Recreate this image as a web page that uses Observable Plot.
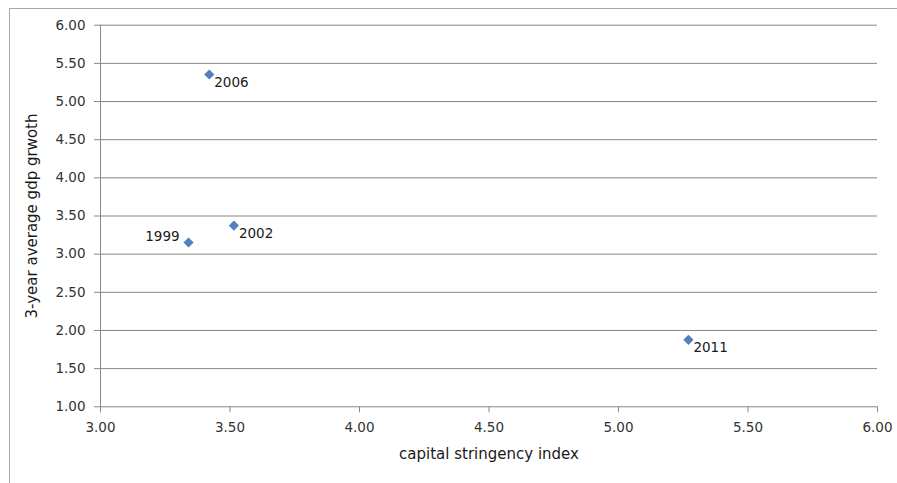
<!DOCTYPE html>
<html>
<head>
<meta charset="utf-8">
<script src="https://cdn.jsdelivr.net/npm/d3@7"></script>
<script src="https://cdn.jsdelivr.net/npm/@observablehq/plot@0.6"></script>
<style>
  html, body { margin: 0; padding: 0; background: #fff; overflow: hidden; }
  #frame { position: absolute; left: 9px; top: 8px; width: 1000px; height: 1000px; border: 1px solid #a6a6a6; }
  #chart { position: absolute; left: 0; top: 0; }
</style>
</head>
<body>
<div id="frame"></div>
<div id="chart"></div>
<script>
// Capital stringency index vs. 3-year average GDP growth, by year
const years = ["1999", "2002", "2006", "2011"];
const stringency = [3.34, 3.515, 3.42, 5.27];
const growth = [3.153, 3.375, 5.354, 1.878];

const xTicks = [3.0, 3.5, 4.0, 4.5, 5.0, 5.5, 6.0];
const yTicks = [1.0, 1.5, 2.0, 2.5, 3.0, 3.5, 4.0, 4.5, 5.0, 5.5, 6.0];

const xTitle = "capital stringency index";
const yTitle = "3-year average gdp grwoth";

const points = years.map((year, i) => ({year, x: stringency[i], y: growth[i]}));
const leftLabelled = points.filter(d => d.year === "1999");
const rightLabelled = points.filter(d => d.year !== "1999");

const font = "DejaVu Sans, sans-serif";
const gridColor = "#878787";
const fmt = d3.format(".2f");

const chart = Plot.plot({
  width: 897,
  height: 483,
  marginLeft: 100,
  marginRight: 20,
  marginTop: 24.7,
  marginBottom: 76.7,
  style: {fontFamily: font, fontSize: "13px", color: "#404040", background: "transparent", overflow: "visible"},
  x: {domain: [3, 6]},
  y: {domain: [1, 6]},
  marks: [
    Plot.gridY(yTicks, {stroke: gridColor, strokeOpacity: 1, strokeWidth: 1}),
    Plot.ruleX([3], {stroke: gridColor, strokeWidth: 1}),
    Plot.axisY(yTicks, {
      tickSize: 6, tickPadding: 9, tickFormat: fmt, stroke: gridColor,
      fill: "#333333", fontSize: 13.5, label: null
    }),
    Plot.axisX(xTicks, {
      tickSize: 6, tickPadding: 10, tickFormat: fmt, stroke: gridColor,
      fill: "#333333", fontSize: 13.5, label: null
    }),
    Plot.dot(points, {
      x: "x", y: "y", symbol: "diamond2", r: 4.6,
      fill: "#4f81bd", stroke: "none"
    }),
    Plot.text(rightLabelled, {
      x: "x", y: "y", text: "year", textAnchor: "start",
      dx: 5, dy: 8, fill: "#1a1a1a", fontSize: 13.5
    }),
    Plot.text(leftLabelled, {
      x: "x", y: "y", text: "year", textAnchor: "end",
      dx: -9, dy: -6, fill: "#1a1a1a", fontSize: 13.5
    }),
    Plot.text([xTitle], {
      frameAnchor: "bottom", lineAnchor: "middle", textAnchor: "middle",
      dy: 47, fill: "#1a1a1a", fontSize: 15
    }),
    Plot.text([yTitle], {
      frameAnchor: "left", lineAnchor: "middle", textAnchor: "middle",
      dx: -68, rotate: -90, fill: "#1a1a1a", fontSize: 15
    })
  ]
});

document.getElementById("chart").appendChild(chart);
</script>
</body>
</html>
